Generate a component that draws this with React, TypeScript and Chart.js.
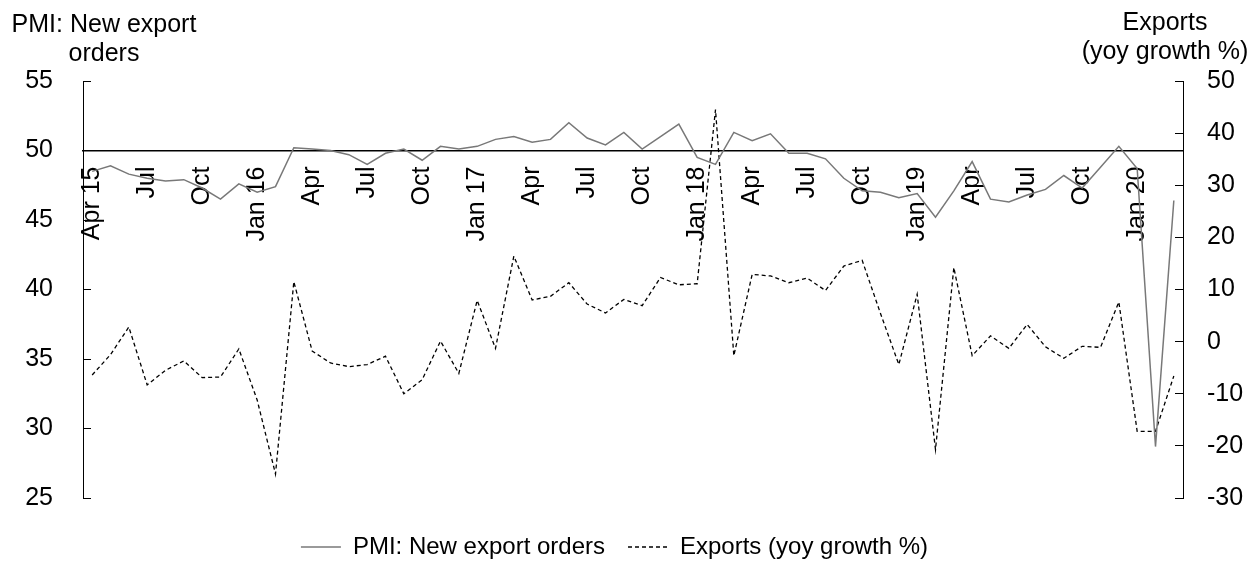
import React, { useEffect, useRef } from 'react';
import { Chart, registerables } from 'chart.js';

Chart.register(...registerables);

const categories: string[] = [
  'Apr 15', 'May 15', 'Jun 15', 'Jul 15', 'Aug 15', 'Sep 15', 'Oct 15', 'Nov 15', 'Dec 15',
  'Jan 16', 'Feb 16', 'Mar 16', 'Apr 16', 'May 16', 'Jun 16', 'Jul 16', 'Aug 16', 'Sep 16', 'Oct 16', 'Nov 16', 'Dec 16',
  'Jan 17', 'Feb 17', 'Mar 17', 'Apr 17', 'May 17', 'Jun 17', 'Jul 17', 'Aug 17', 'Sep 17', 'Oct 17', 'Nov 17', 'Dec 17',
  'Jan 18', 'Feb 18', 'Mar 18', 'Apr 18', 'May 18', 'Jun 18', 'Jul 18', 'Aug 18', 'Sep 18', 'Oct 18', 'Nov 18', 'Dec 18',
  'Jan 19', 'Feb 19', 'Mar 19', 'Apr 19', 'May 19', 'Jun 19', 'Jul 19', 'Aug 19', 'Sep 19', 'Oct 19', 'Nov 19', 'Dec 19',
  'Jan 20', 'Feb 20', 'Mar 20',
];

// shown every third month
const tickLabels: string[] = [
  'Apr 15', 'Jul', 'Oct', 'Jan 16', 'Apr', 'Jul', 'Oct', 'Jan 17', 'Apr', 'Jul', 'Oct',
  'Jan 18', 'Apr', 'Jul', 'Oct', 'Jan 19', 'Apr', 'Jul', 'Oct', 'Jan 20',
];

const pmiNewExportOrders: number[] = [
  48.5, 48.9, 48.3, 48.0, 47.8, 47.9, 47.3, 46.5, 47.6,
  47.0, 47.4, 50.2, 50.1, 50.0, 49.7, 49.0, 49.8, 50.1, 49.3, 50.3, 50.1,
  50.3, 50.8, 51.0, 50.6, 50.8, 52.0, 50.9, 50.4, 51.3, 50.1, 51.0, 51.9,
  49.5, 49.0, 51.3, 50.7, 51.2, 49.8, 49.8, 49.4, 48.0, 47.1, 47.0, 46.6,
  46.9, 45.2, 47.1, 49.2, 46.5, 46.3, 46.8, 47.2, 48.2, 47.3, 48.8, 50.3,
  48.7, 28.7, 46.4,
];

const exportsYoy: number[] = [
  -6.4, -2.5, 2.8, -8.3, -5.5, -3.7, -6.9, -6.8, -1.4,
  -11.2, -25.4, 11.5, -1.8, -4.1, -4.8, -4.4, -2.8, -10.0, -7.3, 0.1, -6.1,
  7.9, -1.3, 16.4, 8.0, 8.7, 11.3, 7.2, 5.5, 8.1, 6.9, 12.3, 10.9,
  11.1, 44.5, -2.7, 12.9, 12.6, 11.3, 12.2, 9.8, 14.5, 15.6, 5.4, -4.4,
  9.1, -20.7, 14.2, -2.7, 1.1, -1.3, 3.3, -1.0, -3.2, -0.9, -1.1, 7.6,
  -17.2, -17.2, -6.6,
];

const leftTitle: string[] = ['PMI: New export', 'orders'];
const rightTitle: string[] = ['Exports', '(yoy growth %)'];

const FONT = '"Liberation Sans", Arial, sans-serif';

const axisTitlesPlugin = {
  id: 'axisTitles',
  afterDraw(chart: any) {
    const { ctx, chartArea } = chart;
    ctx.save();
    ctx.font = `25px ${FONT}`;
    ctx.fillStyle = '#000';
    ctx.textAlign = 'center';
    ctx.textBaseline = 'alphabetic';
    ctx.fillText(leftTitle[0], chartArea.left + 21, chartArea.top - 49);
    ctx.fillText(leftTitle[1], chartArea.left + 21, chartArea.top - 20);
    ctx.fillText(rightTitle[0], chartArea.right - 18, chartArea.top - 51);
    ctx.fillText(rightTitle[1], chartArea.right - 18, chartArea.top - 22);
    ctx.restore();
  },
};

export default function App() {
  const ref = useRef<HTMLCanvasElement>(null);

  useEffect(() => {
    if (!ref.current) return;
    Chart.defaults.font.family = FONT;
    Chart.defaults.color = '#000';

    const chart = new Chart(ref.current, {
      type: 'line',
      data: {
        labels: categories,
        datasets: [
          {
            label: 'PMI: New export orders',
            data: pmiNewExportOrders,
            yAxisID: 'y',
            borderColor: '#787878',
            backgroundColor: '#787878',
            borderWidth: 1.5,
            pointRadius: 0,
            tension: 0,
            fill: false,
          },
          {
            label: 'Exports (yoy growth %)',
            data: exportsYoy,
            yAxisID: 'y1',
            borderColor: '#000',
            backgroundColor: '#000',
            borderWidth: 1.3,
            borderDash: [4, 3],
            pointRadius: 0,
            tension: 0,
            fill: false,
          },
        ],
      },
      options: {
        animation: false,
        responsive: true,
        maintainAspectRatio: false,
        layout: { padding: { top: 81, left: -21, right: 10, bottom: -6 } },
        plugins: {
          legend: {
            position: 'bottom',
            title: { display: true, text: '', padding: 0, font: { size: 10, lineHeight: 1.4 } },
            labels: {
              usePointStyle: true,
              pointStyle: 'line',
              pointStyleWidth: 40,
              padding: 23,
              color: '#000',
              font: { size: 24, family: FONT },
              generateLabels: (c: any) => {
                const items = (Chart.defaults as any).plugins.legend.labels.generateLabels(c);
                items.forEach((it: any) => {
                  const ds = c.data.datasets[it.datasetIndex];
                  it.lineDash = ds.borderDash || [];
                  it.strokeStyle = ds.borderColor;
                  it.lineWidth = ds.borderWidth;
                });
                return items;
              },
            },
          },
          tooltip: { enabled: false },
        },
        scales: {
          x: {
            type: 'category',
            position: { y: 50 } as any,
            offset: true,
            grid: { display: false, drawTicks: false },
            border: { display: true, color: '#000', width: 1.5 },
            ticks: {
              autoSkip: false,
              minRotation: 90,
              maxRotation: 90,
              padding: 16,
              color: '#000',
              font: { size: 25, family: FONT },
              callback: (_v: any, i: number) => (i % 3 === 0 ? tickLabels[i / 3] : ''),
            },
          },
          y: {
            position: 'left',
            min: 25,
            max: 55,
            ticks: { stepSize: 5, padding: 38, color: '#000', font: { size: 25, family: FONT } },
            grid: { drawOnChartArea: false, drawTicks: true, tickLength: -8, color: '#000', tickColor: '#000' },
            border: { display: true, color: '#000', width: 1 },
            afterFit: (s: any) => { s.width = 104; },
          },
          y1: {
            position: 'right',
            min: -30,
            max: 50,
            ticks: { stepSize: 10, padding: 32, color: '#000', font: { size: 25, family: FONT } },
            grid: { drawOnChartArea: false, drawTicks: true, tickLength: -8, color: '#000', tickColor: '#000' },
            border: { display: true, color: '#000', width: 1 },
            afterFit: (s: any) => { s.width = 67; },
          },
        },
      },
      plugins: [axisTitlesPlugin],
    } as any);

    return () => chart.destroy();
  }, []);

  return (
    <div style={{ position: 'absolute', left: 0, top: 0, width: 1260, height: 563 }}>
      <canvas ref={ref} />
    </div>
  );
}
